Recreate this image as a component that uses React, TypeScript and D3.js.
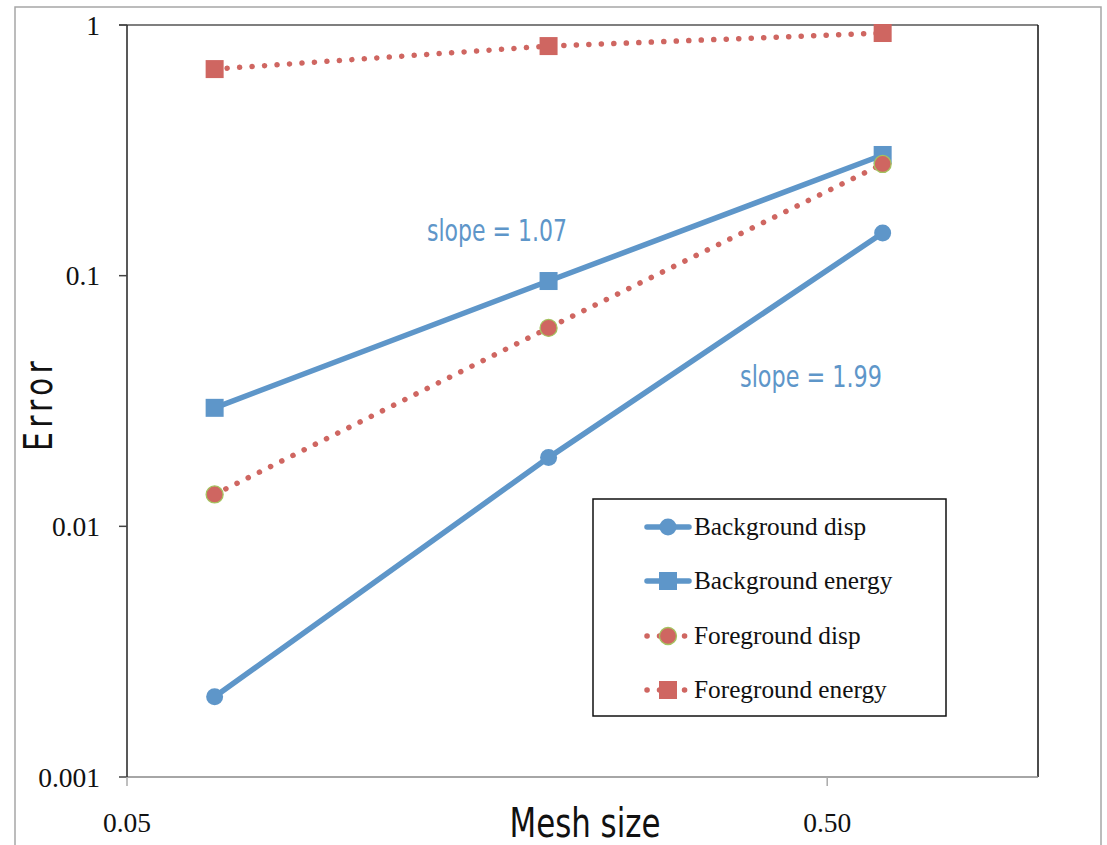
import React from "react";
import * as d3 from "d3";

const meshSize = [0.0667, 0.2, 0.6];
const backgroundDisp = [0.00209, 0.0188, 0.148];
const backgroundEnergy = [0.0297, 0.0952, 0.303];
const foregroundDisp = [0.0134, 0.0619, 0.279];
const foregroundEnergy = [0.667, 0.824, 0.929];

const seriesNames = ["Background disp", "Background energy", "Foreground disp", "Foreground energy"];
const yTicks = [1, 0.1, 0.01, 0.001];
const yTickLabels = ["1", "0.1", "0.01", "0.001"];
const xTicks = [0.05, 0.5];
const xTickLabels = ["0.05", "0.50"];

const BLUE = "#5e96c9";
const RED = "#cf6661";

type Series = {
  name: string;
  values: number[];
  color: string;
  dotted: boolean;
  marker: "circle" | "square";
  markerStroke?: string;
};

const series: Series[] = [
  { name: seriesNames[0], values: backgroundDisp, color: BLUE, dotted: false, marker: "circle" },
  { name: seriesNames[1], values: backgroundEnergy, color: BLUE, dotted: false, marker: "square" },
  { name: seriesNames[2], values: foregroundDisp, color: RED, dotted: true, marker: "circle", markerStroke: "#a5c25f" },
  { name: seriesNames[3], values: foregroundEnergy, color: RED, dotted: true, marker: "square" },
];

const plot = { left: 127, right: 1038, top: 25, bottom: 777 };

const Marker = ({ s, x, y }: { s: Series; x: number; y: number }) =>
  s.marker === "circle" ? (
    <circle cx={x} cy={y} r={8.5} fill={s.color} stroke={s.markerStroke ?? "none"} strokeWidth={1.3} />
  ) : (
    <rect x={x - 9} y={y - 9} width={18} height={18} fill={s.color} />
  );

const App = () => {
  const x = d3.scaleLog().domain([0.05, 1]).range([plot.left, plot.right]);
  const y = d3.scaleLog().domain([0.001, 1]).range([plot.bottom, plot.top]);

  const line = d3
    .line<number>()
    .x((_, i) => x(meshSize[i]))
    .y((d) => y(d));

  const narrow = "'Liberation Sans Narrow', 'DejaVu Sans Condensed', Roboto, sans-serif";
  const serif = "'Liberation Serif', 'DejaVu Serif', serif";

  const legendRows = [527, 581, 636, 690];

  return (
    <svg
      width={1107}
      height={845}
      style={{ position: "absolute", left: 0, top: 0, background: "#fff" }}
    >
      <rect x={15} y={7} width={1086} height={850} fill="#fff" stroke="#a6a6a6" strokeWidth={1.5} />

      {/* axes frame */}
      <line x1={plot.left - 8} x2={plot.right} y1={plot.top} y2={plot.top} stroke="#555" strokeWidth={1.5} />
      <line x1={plot.right} x2={plot.right} y1={plot.top} y2={plot.bottom} stroke="#111" strokeWidth={1.5} />
      <line x1={plot.left} x2={plot.right} y1={plot.bottom} y2={plot.bottom} stroke="#888" strokeWidth={1.5} />
      <line x1={plot.left} x2={plot.left} y1={plot.top} y2={plot.bottom} stroke="#222" strokeWidth={1.5} />

      {yTicks.map((t, i) => (
        <g key={t}>
          <line x1={plot.left - 8} x2={plot.left} y1={y(t)} y2={y(t)} stroke="#444" strokeWidth={1.5} />
          <text
            x={100}
            y={y(t)}
            dy="0.35em"
            textAnchor="end"
            fontFamily={serif}
            fontSize={27.5}
            fill="#111"
          >
            {yTickLabels[i]}
          </text>
        </g>
      ))}
      {xTicks.map((t, i) => (
        <g key={t}>
          <line x1={x(t)} x2={x(t)} y1={plot.bottom} y2={plot.bottom + 9} stroke="#aaa" strokeWidth={1.5} />
          <text x={x(t)} y={832} textAnchor="middle" fontFamily={serif} fontSize={27.5} fill="#111">
            {xTickLabels[i]}
          </text>
        </g>
      ))}

      <text
        transform="translate(52,404) rotate(-90) scale(0.85,1)"
        textAnchor="middle"
        fontFamily={narrow}
        fontSize={39}
        letterSpacing={5}
        fill="#111"
      >
        Error
      </text>
      <text
        x={585}
        y={837}
        textAnchor="middle"
        fontFamily={narrow}
        fontSize={40}
        textLength={151}
        lengthAdjust="spacingAndGlyphs"
        fill="#111"
      >
        Mesh size
      </text>

      {series.map((s) => (
        <g key={s.name}>
          <path
            d={line(s.values) ?? ""}
            fill="none"
            stroke={s.color}
            strokeWidth={5.5}
            strokeLinecap="round"
            strokeDasharray={s.dotted ? "0.1 12.4" : undefined}
          />
          {s.values.map((v, i) => (
            <Marker key={i} s={s} x={x(meshSize[i])} y={y(v)} />
          ))}
        </g>
      ))}

      <text x={427} y={241} fontFamily={narrow} fontSize={30} fill={BLUE} textLength={140} lengthAdjust="spacingAndGlyphs">
        slope = 1.07
      </text>
      <text x={740} y={387} fontFamily={narrow} fontSize={30} fill={BLUE} textLength={142} lengthAdjust="spacingAndGlyphs">
        slope = 1.99
      </text>

      {/* legend */}
      <rect x={593} y={499} width={353} height={217} fill="#fff" stroke="#111" strokeWidth={1.5} />
      {series.map((s, i) => (
        <g key={s.name}>
          <line
            x1={647}
            x2={689}
            y1={legendRows[i]}
            y2={legendRows[i]}
            stroke={s.color}
            strokeWidth={5.5}
            strokeLinecap="round"
            strokeDasharray={s.dotted ? "0.1 12.4" : undefined}
          />
          <Marker s={s} x={668} y={legendRows[i]} />
          <text x={694} y={legendRows[i]} dy="0.33em" fontFamily={serif} fontSize={25.3} fill="#111">
            {s.name}
          </text>
        </g>
      ))}
    </svg>
  );
};

export default App;
